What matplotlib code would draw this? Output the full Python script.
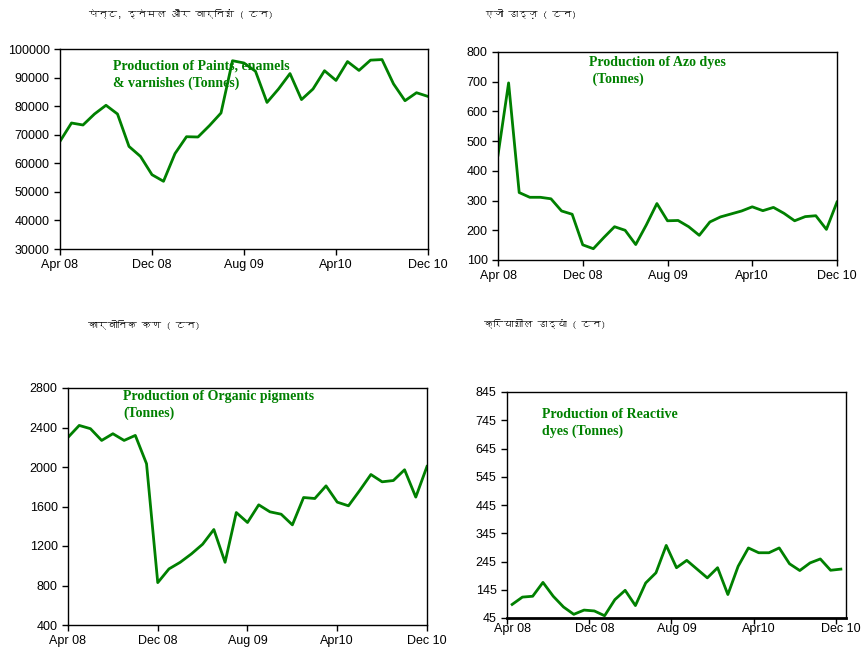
import matplotlib
matplotlib.use('Agg')
import matplotlib.pyplot as plt
from matplotlib import font_manager
from fontTools.ttLib import TTFont

# months Apr 08 .. Dec 10 (33 points)
months = list(range(33))
tick_pos = [0, 8, 16, 24, 32]
tick_labels = ['Apr 08', 'Dec 08', 'Aug 09', 'Apr10', 'Dec 10']

paints = [67700, 74100, 73400, 77250, 80300, 77250, 65900, 62400, 56000, 53700,
          63400, 69300, 69200, 73200, 77600, 95900, 95100, 92200, 81300, 86000,
          91400, 82300, 86000, 92400, 89000, 95600, 92500, 96100, 96300, 87800,
          81900, 84700, 83400]
azo = [453, 696, 327, 311, 311, 306, 265, 254, 151, 138,
       176, 212, 200, 152, 218, 290, 232, 233, 212, 183,
       228, 245, 255, 265, 279, 266, 277, 257, 232, 246,
       249, 203, 295]
organic = [2300, 2421, 2388, 2269, 2337, 2269, 2320, 2033, 829, 968,
           1035, 1120, 1218, 1367, 1035, 1539, 1438, 1617, 1546, 1522,
           1414, 1691, 1681, 1809, 1644, 1607, 1762, 1924, 1850, 1863,
           1972, 1695, 2006]
reactive = [93, 119, 122, 171, 122, 84, 58, 73, 70, 53,
            110, 143, 89, 169, 205, 302, 223, 249, 218, 187,
            223, 128, 228, 293, 276, 276, 293, 237, 213, 240,
            254, 214, 218]

hindi_titles = ['पेन्ट, इनेमल और वार्निशं ( टन)', 'एजो डाइज़ ( टन)',
                'कार्बोनिक कण ( टन)', 'क्रियाशील डाइयां ( टन)']
eng_labels = ['Production of Paints, enamels\n& varnishes (Tonnes)',
              'Production of Azo dyes\n (Tonnes)',
              'Production of Organic pigments\n(Tonnes)',
              'Production of Reactive\ndyes (Tonnes)']

GREEN = '#008000'


def find_deva():
    """look for any installed font that has devanagari glyphs"""
    for f in font_manager.fontManager.ttflist:
        try:
            tt = TTFont(f.fname, fontNumber=0, lazy=True)
            cmap = tt.getBestCmap()
            if cmap and 0x091F in cmap:
                return f.name
        except Exception:
            pass
    return None


deva = find_deva()
deva_family = [deva, 'DejaVu Sans'] if deva else ['DejaVu Sans']

plt.rcParams['font.family'] = ['Liberation Sans', 'DejaVu Sans']

W, H = 862, 652
fig = plt.figure(figsize=(W / 100, H / 100), dpi=100)


def rect(l, r, t, b):
    return [l / W, 1 - b / H, (r - l) / W, (b - t) / H]


def style(ax):
    for s in ax.spines.values():
        s.set_color('black')
        s.set_linewidth(1.0)
    ax.tick_params(axis='both', labelsize=9, length=4, width=1, direction='out')


# panel 1 - paints
ax1 = fig.add_axes(rect(60, 428, 49, 249))
ax1.plot(months, paints, color=GREEN, lw=2)
ax1.set_xlim(0, 32)
ax1.set_ylim(30000, 100000)
ax1.set_yticks(range(30000, 100001, 10000))
ax1.set_xticks(tick_pos)
ax1.set_xticklabels(tick_labels)
style(ax1)

# panel 2 - azo
ax2 = fig.add_axes(rect(498, 837, 52, 260))
ax2.plot(months, azo, color=GREEN, lw=2)
ax2.set_xlim(0, 32)
ax2.set_ylim(100, 800)
ax2.set_yticks(range(100, 801, 100))
ax2.set_xticks(tick_pos)
ax2.set_xticklabels(tick_labels)
style(ax2)

# panel 3 - organic pigments
ax3 = fig.add_axes(rect(68, 427, 388, 625))
ax3.plot(months, organic, color=GREEN, lw=2)
ax3.set_xlim(0, 32)
ax3.set_ylim(400, 2800)
ax3.set_yticks(range(400, 2801, 400))
ax3.set_xticks(tick_pos)
ax3.set_xticklabels(tick_labels)
style(ax3)

# panel 4 - reactive dyes (categories between ticks)
ax4 = fig.add_axes(rect(507, 846, 392, 618))
ax4.plot(months, reactive, color=GREEN, lw=2)
ax4.set_xlim(-0.5, 32.5)
ax4.set_ylim(45, 845)
ax4.set_yticks(range(45, 846, 100))
ax4.set_xticks([p - 0.5 for p in tick_pos])
ax4.set_xticklabels([])
ax4.set_xticks(tick_pos, minor=True)
ax4.set_xticklabels(tick_labels, minor=True)
style(ax4)
ax4.tick_params(axis='x', which='minor', length=0, labelsize=9)
ax4.spines['bottom'].set_linewidth(2)

# english labels inside the panels
fig.text(113 / W, 1 - 60 / H, eng_labels[0], color=GREEN, fontsize=10,
         fontweight='bold', family='Liberation Serif', va='top', linespacing=1.3)
fig.text(589 / W, 1 - 56 / H, eng_labels[1], color=GREEN, fontsize=10,
         fontweight='bold', family='Liberation Serif', va='top', linespacing=1.3)
fig.text(123 / W, 1 - 390 / H, eng_labels[2], color=GREEN, fontsize=10,
         fontweight='bold', family='Liberation Serif', va='top', linespacing=1.3)
fig.text(542 / W, 1 - 408 / H, eng_labels[3], color=GREEN, fontsize=10,
         fontweight='bold', family='Liberation Serif', va='top', linespacing=1.3)

# hindi titles
for (x, y), t in zip([(88, 14), (484, 14), (88, 324), (484, 324)], hindi_titles):
    fig.text(x / W, 1 - y / H, t, fontsize=7, fontweight='bold',
             family=deva_family, va='center')

fig.savefig('out.png', dpi=100)
